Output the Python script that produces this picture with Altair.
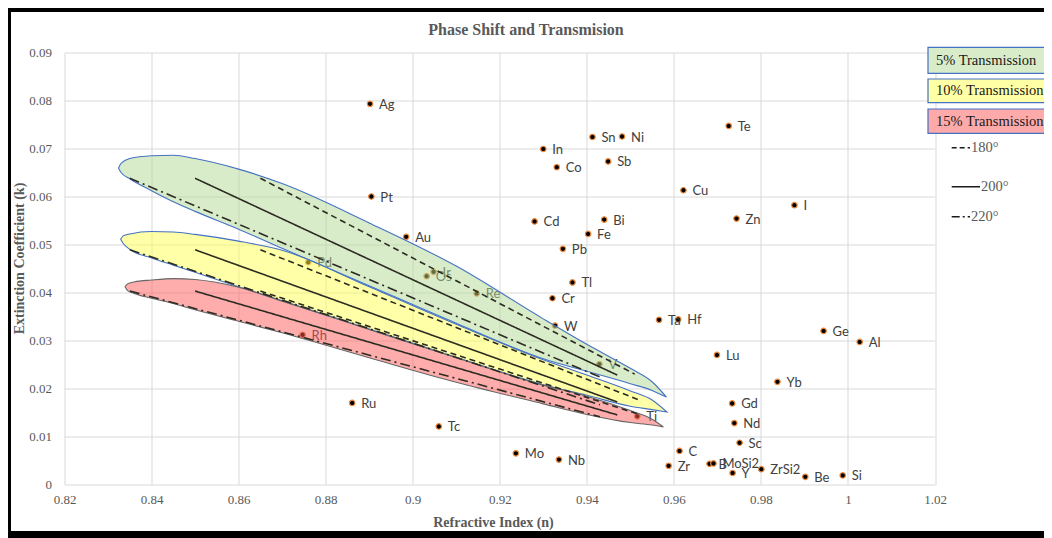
import altair as alt
import pandas as pd

# ---------------- data ----------------
elements = ["Ag", "Pt", "Au", "Pd", "Ir", "Os", "Re", "Rh", "Ru", "Tc", "Mo", "Nb",
            "In", "Co", "Sn", "Ni", "Sb", "Te", "Cu", "I", "Cd", "Bi", "Zn", "Fe",
            "Pb", "Tl", "Cr", "W", "V", "Ti", "Ta", "Hf", "Lu", "Ge", "Al", "Yb",
            "Gd", "Nd", "Sc", "C", "Zr", "B", "MoSi2", "Y", "ZrSi2", "Be", "Si"]
n_values = [0.8902, 0.8905, 0.8985, 0.8760, 0.9048, 0.9032, 0.9147, 0.8747, 0.8861, 0.9060, 0.9237, 0.9336,
            0.9300, 0.9331, 0.9413, 0.9481, 0.9449, 0.9726, 0.9622, 0.9877, 0.9280, 0.9440, 0.9744, 0.9403,
            0.9345, 0.9367, 0.9321, 0.9327, 0.9429, 0.9516, 0.9566, 0.9610, 0.9699, 0.9944, 1.0027, 0.9838,
            0.9734, 0.9739, 0.9751, 0.9613, 0.9588, 0.9682, 0.9691, 0.9735, 0.9801, 0.9902, 0.9988]
k_values = [0.0793, 0.0600, 0.0516, 0.0463, 0.0443, 0.0434, 0.0398, 0.0312, 0.0170, 0.0121, 0.0065, 0.0052,
            0.0699, 0.0661, 0.0724, 0.0725, 0.0673, 0.0747, 0.0613, 0.0582, 0.0548, 0.0552, 0.0554, 0.0522,
            0.0491, 0.0421, 0.0388, 0.0331, 0.0251, 0.0142, 0.0343, 0.0344, 0.0270, 0.0320, 0.0297, 0.0214,
            0.0169, 0.0128, 0.0087, 0.0070, 0.0039, 0.0043, 0.0044, 0.0024, 0.0032, 0.0016, 0.0019]

x_ticks = [0.82, 0.84, 0.86, 0.88, 0.90, 0.92, 0.94, 0.96, 0.98, 1.00, 1.02]
y_ticks = [0.0, 0.01, 0.02, 0.03, 0.04, 0.05, 0.06, 0.07, 0.08, 0.09]

shape_labels = ["5% Transmission", "10% Transmission", "15% Transmission"]

green_n = [0.8324, 0.8330, 0.835, 0.840, 0.845, 0.850, 0.860, 0.870, 0.890, 0.910, 0.930, 0.940, 0.950, 0.955, 0.9583]
green_top = [0.0659, 0.0669, 0.0679, 0.0685, 0.0686, 0.0679, 0.0657, 0.0627, 0.0545, 0.0455, 0.0345, 0.0292, 0.0242, 0.0214, 0.0182]
green_bottom = [0.0659, 0.0650, 0.0637, 0.0612, 0.0589, 0.0569, 0.0532, 0.0492, 0.0414, 0.0336, 0.0262, 0.0236, 0.0210, 0.0196, 0.0182]

yellow_n = [0.8329, 0.8335, 0.835, 0.840, 0.845, 0.850, 0.860, 0.870, 0.890, 0.910, 0.930, 0.940, 0.950, 0.955, 0.9584]
yellow_top = [0.0511, 0.0518, 0.0522, 0.0527, 0.0526, 0.0521, 0.0507, 0.0488, 0.0412, 0.0334, 0.0260, 0.0228, 0.0195, 0.0176, 0.0151]
yellow_bottom = [0.0511, 0.0502, 0.0490, 0.0472, 0.0457, 0.0442, 0.0412, 0.0383, 0.0324, 0.0265, 0.0208, 0.0186, 0.0163, 0.0156, 0.0151]

red_n = [0.8339, 0.8345, 0.8360, 0.840, 0.845, 0.850, 0.860, 0.870, 0.890, 0.910, 0.930, 0.940, 0.950, 0.955, 0.9576]
red_top = [0.0412, 0.0418, 0.0422, 0.0426, 0.0429, 0.0427, 0.0411, 0.0382, 0.0323, 0.0264, 0.0207, 0.0184, 0.0154, 0.0136, 0.0120]
red_bottom = [0.0412, 0.0404, 0.0398, 0.0388, 0.0377, 0.0364, 0.0340, 0.0316, 0.0264, 0.0213, 0.0168, 0.0146, 0.0129, 0.0124, 0.0120]

phase_labels = ["180°", "200°", "220°"]
line_transmission = ["5%", "5%", "5%", "10%", "10%", "10%", "15%", "15%", "15%"]
line_phase = ["180°", "200°", "220°", "180°", "200°", "220°", "180°", "200°", "220°"]
line_n_start = [0.865, 0.850, 0.835, 0.865, 0.850, 0.835, 0.865, 0.850, 0.835]
line_k_start = [0.0638, 0.0638, 0.0638, 0.0489, 0.0489, 0.0489, 0.0403, 0.0403, 0.0403]
line_n_end = [0.951, 0.947, 0.943, 0.952, 0.947, 0.943, 0.952, 0.947, 0.943]
line_k_end = [0.0230, 0.0228, 0.0224, 0.0176, 0.0172, 0.0166, 0.0146, 0.0145, 0.0141]

chart_title = "Phase Shift and Transmision"

# ---------------- tables ----------------
points_df = pd.DataFrame({"element": elements, "n": n_values, "k": k_values})

shape_rows = []
for lab, ns, tops, bots in [(shape_labels[0], green_n, green_top, green_bottom),
                            (shape_labels[1], yellow_n, yellow_top, yellow_bottom),
                            (shape_labels[2], red_n, red_top, red_bottom)]:
    for n, t, b in zip(ns, tops, bots):
        shape_rows.append({"shape": lab, "n": n, "top": t, "bottom": b})
shapes_df = pd.DataFrame(shape_rows)

line_rows = []
for i in range(len(line_phase)):
    lid = line_transmission[i] + " " + line_phase[i]
    line_rows.append({"id": lid, "phase": line_phase[i], "n": line_n_start[i], "k": line_k_start[i]})
    line_rows.append({"id": lid, "phase": line_phase[i], "n": line_n_end[i], "k": line_k_end[i]})
lines_df = pd.DataFrame(line_rows)

# ---------------- styling ----------------
SERIF = "Liberation Serif"
GREY = "#595959"
fill_colors = ["#b3d993", "#ffff4f", "#ff5959"]
legend_fill = ["#d9ecc9", "#ffffa6", "#ffaaaa"]
stroke_colors = ["#4472c4", "#4472c4", "#666666"]

W, H = 870.5, 432
PAD_L, PAD_T = 56.5, 44.5
TOTAL_W, TOTAL_H = 1036, 530

x_scale = alt.Scale(domain=[0.82, 1.02], nice=False, zero=False)
y_scale = alt.Scale(domain=[0.0, 0.09], nice=False, zero=False)

x_axis = alt.Axis(values=x_ticks, format=".2~f", title="Refractive Index (n)",
                  grid=True, ticks=False, domain=False, labelPadding=9, labelFlush=False,
                  titleX=428.5, titleY=37.5, titleAlign="center", titleBaseline="middle")
y_axis = alt.Axis(values=y_ticks, format=".2~f", title="Extinction Coefficient (k)",
                  grid=True, ticks=False, domain=False, labelPadding=13, labelFlush=False,
                  titleX=-45.5, titleY=205.5, titleAngle=270, titleAlign="center",
                  titleBaseline="middle")

X = alt.X("n:Q", scale=x_scale, axis=x_axis)

points = alt.Chart(points_df).mark_point(
    shape="circle", filled=True, fill="black", stroke="#ee8a3e", strokeWidth=1.2,
    size=30, opacity=1
).encode(x=X, y=alt.Y("k:Q", scale=y_scale, axis=y_axis))

labels = alt.Chart(points_df).mark_text(
    align="left", baseline="middle", dx=9, dy=1, font="Lato", fontSize=13, color="#404040"
).encode(x=X, y=alt.Y("k:Q", scale=y_scale, axis=y_axis), text="element:N")

areas = alt.Chart(shapes_df).mark_area(
    interpolate="monotone", fillOpacity=0.5, strokeWidth=1.1, strokeOpacity=1
).encode(
    x=X,
    y=alt.Y("top:Q", scale=y_scale, axis=y_axis),
    y2="bottom:Q",
    fill=alt.Fill("shape:N", scale=alt.Scale(domain=shape_labels, range=fill_colors), legend=None),
    stroke=alt.Stroke("shape:N", scale=alt.Scale(domain=shape_labels, range=stroke_colors), legend=None),
)

lines = alt.Chart(lines_df).mark_line(color="#2b2b22", strokeWidth=1.6).encode(
    x=X,
    y=alt.Y("k:Q", scale=y_scale, axis=y_axis),
    detail="id:N",
    strokeDash=alt.StrokeDash("phase:N", scale=alt.Scale(domain=phase_labels,
                              range=[[6, 4], [1, 0], [10, 4, 2, 4]]), legend=None),
)

one = alt.Data(values=[{}])
deco = []
right_edge = TOTAL_W - PAD_L + 5

# chart title
deco.append(alt.Chart(one).mark_text(text=chart_title, align="center", baseline="middle",
                                     font=SERIF, fontSize=16, fontWeight="bold", color=GREY).encode(
    x=alt.value(461.5), y=alt.value(-22.5)))

# legend boxes (pixel positions relative to plot area)
box_y = [(-5.2, 20.8), (26.5, 50.2), (56.5, 80.8)]
for (y0, y1), lab, col in zip(box_y, shape_labels, legend_fill):
    deco.append(alt.Chart(one).mark_rect(fill=col, stroke="#4472c4", strokeWidth=1.2).encode(
        x=alt.value(863.5), x2=alt.value(right_edge), y=alt.value(y0), y2=alt.value(y1)))
    deco.append(alt.Chart(one).mark_text(text=lab, align="left", baseline="middle", font=SERIF,
                                         fontSize=14.5, color="#1a1a1a").encode(
        x=alt.value(871.5), y=alt.value((y0 + y1) / 2 + 0.5)))

# line-style legend
leg_items = [("180°", 95.2, 905.5, [5, 3]), ("200°", 134.2, 915.5, [1, 0]), ("220°", 164.2, 905.5, [8, 3, 2, 3])]
for lab, yy, xe, dash in leg_items:
    deco.append(alt.Chart(one).mark_rule(color="#1a1a1a", strokeWidth=1.6, strokeDash=dash).encode(
        x=alt.value(887.2), x2=alt.value(xe), y=alt.value(yy)))
    deco.append(alt.Chart(one).mark_text(text=lab, align="left", baseline="middle", font=SERIF,
                                         fontSize=14.5, color=GREY).encode(
        x=alt.value(xe + 1), y=alt.value(yy)))

# black frame of the figure
deco.append(alt.Chart(one).mark_rule(color="black", strokeWidth=5).encode(
    x=alt.value(-PAD_L), x2=alt.value(right_edge), y=alt.value(-PAD_T + 1.5)))
deco.append(alt.Chart(one).mark_rule(color="black", strokeWidth=4).encode(
    x=alt.value(-PAD_L + 1), y=alt.value(-PAD_T), y2=alt.value(TOTAL_H - PAD_T)))
deco.append(alt.Chart(one).mark_rule(color="black", strokeWidth=7).encode(
    x=alt.value(-PAD_L), x2=alt.value(right_edge), y=alt.value(TOTAL_H - PAD_T - 3.5)))

chart = alt.layer(points, labels, areas, lines, *deco).properties(
    width=W, height=H,
    autosize=alt.AutoSizeParams(type="none"),
    padding={"left": PAD_L, "top": PAD_T, "right": TOTAL_W - PAD_L - W,
             "bottom": TOTAL_H - PAD_T - H},
    background="white",
).configure_view(stroke=None).configure_axis(
    gridColor="#d9d9d9", gridWidth=1,
    labelFont=SERIF, labelFontSize=13, labelColor=GREY,
    titleFont=SERIF, titleFontSize=14, titleFontWeight="bold", titleColor=GREY,
)

chart.save("out.html", embed_options={"renderer": "svg", "actions": False})
